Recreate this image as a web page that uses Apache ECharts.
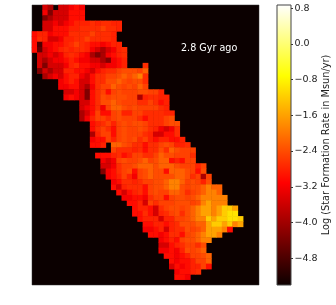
<!DOCTYPE html>
<html><head><meta charset="utf-8">
<style>html,body{margin:0;padding:0;background:#fff}#c{width:336px;height:305px}</style>
<script src="https://cdn.jsdelivr.net/npm/echarts@6/dist/echarts.min.js"></script>
</head><body><div id="c"></div>
<script>
const nCols = 43, nRows = 53;
const ageLabel = '2.8 Gyr ago';
const barTitle = 'Log (Star Formation Rate in Msun/yr)';
const scaleMin = -5.4, scaleMax = 0.87;
const tickValues = [-4.8,-4,-3.2,-2.4,-1.6,-0.8,0,0.8];
const rowStart = [2,2,2,2,2,0,0,0,0,1,1,1,1,2,5,5,6,6,9,9,9,9,11,11,11,11,11,15,12,13,13,13,14,15,15,16,17,18,19,19,20,21,21,22,24,24,24,25,26,26,27,27];
const rowValues = [
[-3.5,-3.9,null,-3.5,-3.5,-3.2,-3,-3.2],
[-3.2,-4.3,-3.5,-3.5,-3.5,-3,-3,-3],
[-4.3,-3.9,-3.5,-3.5,-3.5,-3,-3,-3],
[-3.5,-3.5,-3.2,-3.5,-3.2,-3,-2.8,-2.8,-2.8,-2.7,-2.8,-2.7,-2.7,-2.8,-2.8],
[-3.5,-3.5,-3,-3,-3,-2.8,-2.8,-2.7,-2.7,-2.7,-2.7,-2.5,-2.7,-2.7,-2.8],
[-3,-2.8,-2.8,-3.2,-3,-3,-3,-2.7,-2.7,-2.7,-2.7,-2.5,-2.7,-2.7,-2.7,-2.8],
[-3,-2.7,-2.8,-3.5,-3.5,-3.2,-2.8,-2.8,-2.7,-2.7,-2.5,-2.7,-2.7,-2.7,-2.7,-2.8],
[-3,-4.8,-3.2,-3.2,-3,-3,-2.8,-2.7,-2.5,-2.7,-2.8,-3,-3,-3.2,-3,-2.8,-2.8],
[-3,-4.6,-3.5,-3.2,-3,-2.8,-2.7,-2.8,-2.7,-2.7,-2.8,-3.2,-3.5,-3.9,-3.5,-3.2,-2.8,-2.7],
[-3.5,-3.5,-3.2,-3.5,-3.2,-2.8,-2.7,-2.8,-3,-3.2,-3.9,-4.3,-3.9,-3.2,-3,-2.8,-2.7],
[-3.5,-3.9,-3.5,-3.2,-3.2,-3,-2.8,-3,-3.2,-3.2,-3.5,-3.5,-3.9,-4.3,-3.2,-3,-2.8],
[-3.5,-4.3,-3.5,-3.5,-3.5,-3.2,-2.8,-2.7,-3,-3,-3.2,-3.2,-3.5,-3.2,-3.2,-3,-2.8,null,null,null,-2.7],
[-4.3,-3.5,-3.9,-3.5,-3.5,-2.8,-2.8,-3,-3,-3.2,-3.5,-3,-2.8,-2.7,-2.7,-2.5,-2.4,-2.4,-2.4,-2.5,-2.2],
[-3.9,-3.5,-3.2,-3.5,-3,-2.8,-2.8,-3.2,-3.5,-3,-2.7,-2.7,-2.5,-2.5,-2.4,-2.2,-2.4,-2.2,-1.9,-2.7],
[-3.2,-3,-2.8,-3,-3.5,-3.5,-3,-2.7,-2.7,-2.4,-2.4,-2.2,-2.4,-2.5,-2.4,-2.4,-2.7],
[-3.2,-3.2,-3,-3,-3.5,-3.9,-3.2,-2.7,-2.5,-2.5,-2.2,-2.4,-2.5,-2.4,-2.5,-2.2,-2.5],
[-3.5,-3.5,-3.2,-3.5,-4.3,-3,-2.7,-2.5,-3,-2.5,-2.4,-2.5,-2.5,-2.5,-2.4,-2.4,-2.5,-2.5,-2.8],
[-3.2,-3,-3.2,-3.5,-4.3,-3,-2.7,-2.4,-2.5,-2.4,-2.4,-2.4,-2.5,-2.5,-3.9,-2.8,-2.7,-2.7,-2.8,-2.8],
[-3.5,-3.5,-3,-2.7,-2.4,-2.4,-2.2,-2.4,-2.5,-2.5,-2.5,-2.7,-2.7,-2.5,-2.7,-3,-2.8],
[-3.5,-3.2,-3,-2.7,-3.2,-2.5,-2.2,-2.2,-2.4,-2.5,-2.4,-2.5,-2.5,-2.5,-2.5,-2.7,-2.8],
[-3.9,-3.5,-3,-2.5,-3,-3,-2.5,-2.4,-2.8,-2.8,-2.5,-2.5,-2.7,-2.7,-2.7,-2.7,-2.8,-2.8],
[-3.9,-3.2,-2.8,-2.5,-2.5,-2.7,-2.5,-2.4,-2.5,-2.5,-2.5,-2.7,-3,-2.7,-2.7,-2.7,-2.5,-2.4],
[-3,-2.8,-2.7,-2.5,-2.8,-2.5,-2.4,-2.5,-2.4,-2.4,-2.5,-2.7,-2.7,-2.7,-2.5,-2.4,-2.4],
[-3,-2.7,-2.5,-2.7,-3,-2.5,-2.4,-2.5,-2.5,-2.4,-2.5,-2.7,-2.8,-3.2,-3.5,-3.2,-2.7],
[-3.9,-2.8,-2.5,-2.5,-3,-2.5,-2.4,-2.5,-2.5,-2.5,-2.7,-2.8,-3.5,-3.5,-3,-3,-2.7],
[-3.2,-3,-3,-2.5,-2.8,-2.5,-2.4,-2.5,-2.4,-2.7,-2.5,-2.8,-3,-2.8,-2.8,-3,-3,-2.8],
[-3,-3,-2.8,null,-2.2,-2.2,-2.4,-2.5,-2.7,-2.7,-3,-2.7,-2.7,-2.5,-2.4,-2.5,-2.8,-2.8,-2.7],
[-2.5,-2.7,-2.7,-2.7,-2.8,-2.7,-3,-2.7,-2.7,-2.4,-2.7,-2.2,-2.4,-2.5,-2.5,-2.5],
[-3,-3,-3,-2.8,-2.7,-3,-2.8,-2.5,-2.5,-2.7,-2.7,-2.5,-2.2,-2.4,-2.4,-2.5,-2.5,-2.5,-2.7],
[-3.2,-3.5,-3.2,-2.5,-2.4,-2.5,-2.5,-2.4,-2.2,-2.5,-2.4,-2.2,-2.2,-3,-2.8,-3,-2.5,-2.5],
[-3.5,-3.5,-3.2,-2.7,-2.5,-2.5,-2.4,-2.2,-2.2,-2.2,-2.4,-2.2,-2.2,-2.2,-2.4,-2.5,-2.5,-2.5,-2.8,-2.5],
[-4.3,-3.2,-3,-2.7,-2.5,-2.4,-3,-2.5,-2.4,-2.2,-2.4,-2.4,-3,-2.2,-2.2,-2.2,-2.4,-2.5,-3,-2.4],
[-3.2,-3,-2.8,-2.5,-2.8,-3.2,-2.5,-2.4,-2.2,-2.4,-2.4,-2.4,-2.4,-2.2,-2.2,-2.4,-2.7,-2.5,-3.9,-2.5],
[-3.2,-3,-2.7,-2.7,-2.8,-2.7,-2.5,-2.5,-2.4,-2.4,-2.2,-1.9,-1.9,-2.2,-2.5,-2.4,-2.5,-2.8,-2.4],
[-3,-3.5,-2.8,-2.7,-2.7,-2.7,-3,-2.5,-2.4,-2.4,-2.2,-1.9,-1.9,-2.4,-2.5,-2.4,-2.4,-2.2,-1.9,-2.2,-2.2],
[-3,-3.5,-3,-2.8,-2.7,-3,-2.5,-2.4,-2.5,-2.5,-2.2,-2.2,-2.4,-2.7,-2.5,-2.4,-2.2,-1.9,-1.9,-2.2],
[-3.2,-3.2,-3,-3,-3.2,-2.7,-2.5,-2.5,-3,-2.5,-2.4,-2.4,-2.5,-2.4,-2.2,-1.9,-1.9,-1.9,-1.9,-1.9],
[-3,-3,-2.8,-3.5,-2.5,-2.7,-2.5,-2.5,-2.5,-2.4,-2.4,-2.4,-2.5,-2.4,-1.9,-1.6,-1.9,-1.9,-1.9],
[-3,-2.8,-2.8,-3,-3.5,-2.7,-2.5,-2.4,-2.4,-2.5,-2.4,-2.2,-1.9,-1.6,-1.6,-1.9,-1.6,-1.2,-1.2,-1.6],
[-3,-3,-2.7,-3,-3.5,-2.8,-2.7,-2.5,-2.4,-2.7,-2.4,-2.2,-1.9,-1.6,-1.6,-1.9,-1.6,-1.2,-1,-1],
[-3,-2.8,-2.8,-2.8,-3.5,-2.8,-2.8,-2.5,-2.5,-2.4,-2.2,-1.9,-1.9,-1.2,-1.6,-1.2,-1.2,-1,-1,-1.2],
[-3,-3,-2.8,-2.8,-3,-2.8,-2.7,-2.4,-2.4,-2.4,-2.2,-2.2,-1.6,-1.2,-1.2,-1.6,-1.2,-1.9,-1.6],
[-3.2,-3.2,-3,-2.8,-3.5,-2.8,-2.7,-2.7,-2.4,-2.5,-2.4,-2.2,-1.6,-1.6,-1.6,-1.9,-3],
[-3,-3,-3.2,-3,-2.7,-2.7,-3,-2.5,-2.4,-2.2,-1.9,-1.6,-1.6,-1.9],
[-3.2,-3,-2.8,-3,-2.5,-2.4,-2.4,-2.2,-1.9,-1.9],
[-3.5,-3.5,-3,-2.8,-2.7,-2.5,-2.5,-2.7,-2.4],
[-3.2,-3.2,-3,-3.2,-2.8,-2.4,-2.5,-2.4,-2.2],
[-3,-3,-3.2,-3,-2.8,-2.5,-2.5,-2.4,-2.2],
[-3,-3.2,-3,-3,-2.8,-2.5,-2.5,-2.2],
[-3.5,-3,-3.2,-3,-2.8,-2.8,-2.5,-3],
[-3.2,-3,-3,-2.8,-2.7],
[-3,-3,-3.2]
];
const cells = [];
rowValues.forEach((vals, r) => vals.forEach((v, i) => { if (v !== null) cells.push([rowStart[r] + i, r, v]); }));
const cols = Array.from({length: nCols}, (_, i) => i);
const rows = Array.from({length: nRows}, (_, i) => i);
function hot(t) {
  const r = Math.min(1, 0.0416 + t / 0.365 * 0.9584);
  const g = Math.max(0, Math.min(1, (t - 0.365) / 0.381));
  const b = Math.max(0, Math.min(1, (t - 0.746) / 0.254));
  return `rgb(${Math.round(r*255)},${Math.round(g*255)},${Math.round(b*255)})`;
}
const palette = Array.from({length: 256}, (_, i) => hot(i / 255));
const chart = echarts.init(document.getElementById('c'), null, {renderer: 'canvas'});
const font = 'DejaVu Sans';
chart.setOption({
  animation: false,
  backgroundColor: '#fff',
  title: {text: ageLabel, left: 176, top: 38, textStyle: {color: '#fff', fontFamily: font, fontSize: 9.6, fontWeight: 'normal'}},
  grid: [
    {left: 32, top: 5, width: 227, height: 280, show: true, backgroundColor: '#0b0000', borderColor: '#333', borderWidth: 0.5},
    {left: 277, top: 5, width: 14, height: 280}
  ],
  xAxis: [
    {gridIndex: 0, type: 'category', data: cols, show: false},
    {gridIndex: 1, type: 'category', data: [0], show: false}
  ],
  yAxis: [
    {gridIndex: 0, type: 'category', data: rows, inverse: true, show: false},
    {gridIndex: 1, type: 'value', position: 'right', min: scaleMin, max: scaleMax,
     name: barTitle, nameLocation: 'middle', nameRotate: 90, nameGap: 29,
     nameTextStyle: {color: '#222', fontFamily: font, fontSize: 9.8},
     axisLine: {show: false}, splitLine: {show: false},
     axisTick: {show: true, length: 2, customValues: tickValues, lineStyle: {color: '#333', width: 1}},
     axisLabel: {show: true, margin: 3.5, customValues: tickValues, align: 'left', color: '#222', fontFamily: font, fontSize: 9.5,
                 formatter: v => (+v).toFixed(1).replace('-', '\u2212')}}
  ],
  visualMap: {show: false, seriesIndex: 0, min: scaleMin, max: scaleMax, inRange: {color: palette}},
  series: [
    {type: 'heatmap', xAxisIndex: 0, yAxisIndex: 0, data: cells, progressive: 0, emphasis: {disabled: true}},
    {type: 'custom', xAxisIndex: 1, yAxisIndex: 1, data: [[0, scaleMin, scaleMax]], silent: true,
     encode: {x: 0, y: [1, 2]},
     renderItem: (params, api) => {
       const lo = api.coord([0, api.value(1)]);
       const hi = api.coord([0, api.value(2)]);
       const cs = params.coordSys;
       return {type: 'rect', shape: {x: cs.x, y: hi[1], width: cs.width, height: lo[1] - hi[1]},
         style: {stroke: '#444', lineWidth: 1, fill: new echarts.graphic.LinearGradient(0, 1, 0, 0, [
           {offset: 0, color: hot(0)}, {offset: 0.365, color: hot(0.365)},
           {offset: 0.746, color: hot(0.746)}, {offset: 1, color: hot(1)}])}};
     }}
  ]
});
</script></body></html>
